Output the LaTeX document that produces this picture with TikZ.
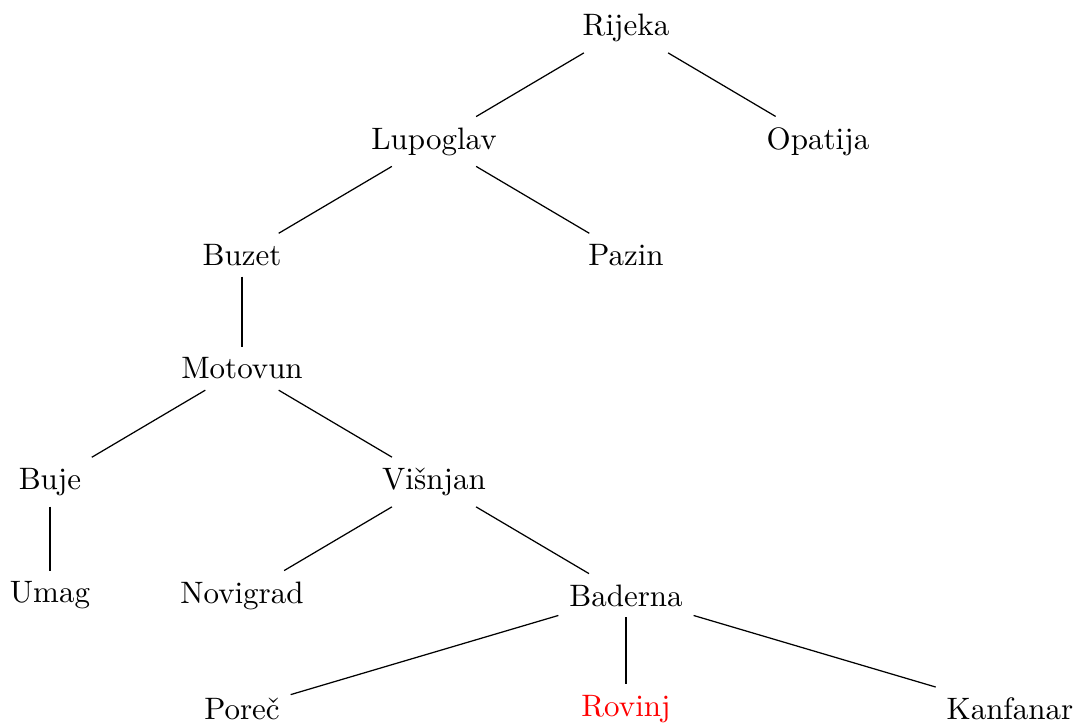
\documentclass[tikz,border=0pt]{standalone}
\begin{document}
\begin{tikzpicture}[x=0.32258pt,y=-0.32258pt,
  place/.style={inner sep=3.333pt},
  edge/.style={draw=black,line width=0.4pt}]
\useasboundingbox (0,0) rectangle (1076,724);
\node[place] (rijeka)   at (626,28)    {Rijeka};
\node[place] (lupoglav) at (434,141.5) {Lupoglav};
\node[place] (opatija)  at (818,141.5) {Opatija};
\node[place] (buzet)    at (242,255)   {Buzet};
\node[place] (pazin)    at (626,255)   {Pazin};
\node[place] (motovun)  at (242,368.5) {Motovun};
\node[place] (buje)     at (50,482)    {Buje};
\node[place] (visnjan)  at (434,482)   {Višnjan};
\node[place] (umag)     at (50,595.5)  {Umag};
\node[place] (novigrad) at (242,595.5) {Novigrad};
\node[place] (baderna)  at (626,595.5) {Baderna};
\node[place] (porec)    at (242,709)   {Poreč};
\node[place,text=red] (rovinj) at (626,709) {Rovinj};
\node[place] (kanfanar) at (1010,709)  {Kanfanar};
\draw[edge] (rijeka) -- (lupoglav);
\draw[edge] (rijeka) -- (opatija);
\draw[edge] (lupoglav) -- (buzet);
\draw[edge] (lupoglav) -- (pazin);
\draw[edge] (buzet) -- (motovun);
\draw[edge] (motovun) -- (buje);
\draw[edge] (motovun) -- (visnjan);
\draw[edge] (buje) -- (umag);
\draw[edge] (visnjan) -- (novigrad);
\draw[edge] (visnjan) -- (baderna);
\draw[edge] (baderna) -- (porec);
\draw[edge] (baderna) -- (rovinj);
\draw[edge] (baderna) -- (kanfanar);
\end{tikzpicture}
\end{document}
